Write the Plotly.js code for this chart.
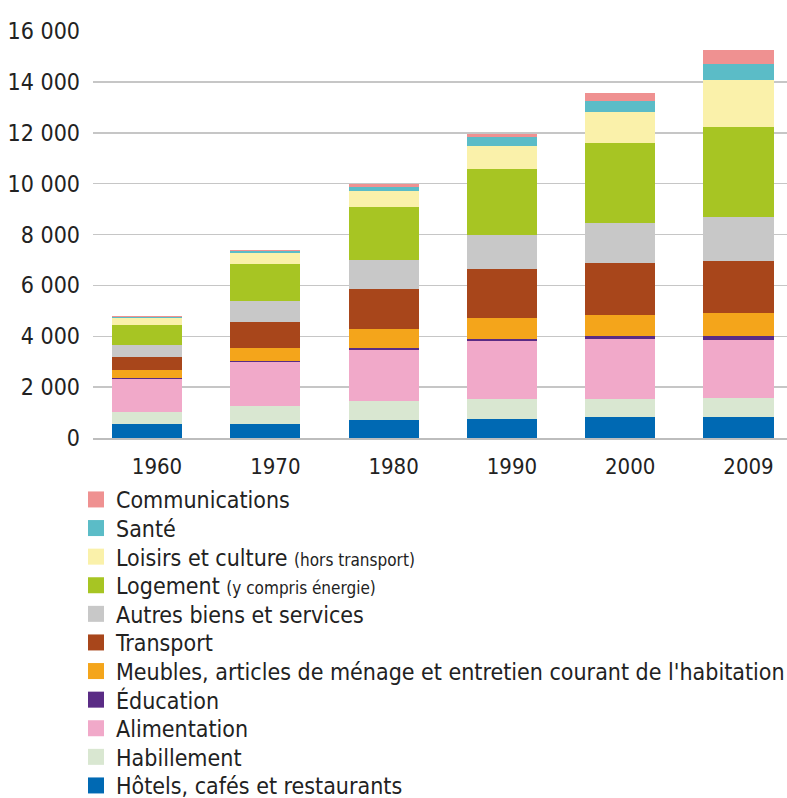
<!DOCTYPE html>
<html>
<head>
<meta charset="utf-8">
<script src="https://cdn.plot.ly/plotly-3.0.1.min.js"></script>
<style>
  html, body { margin: 0; padding: 0; background: #fff; }
  #chart { width: 787px; height: 798px; }
</style>
</head>
<body>
<div id="chart"></div>
<script>
// Years on the category axis
const years = ['1960', '1970', '1980', '1990', '2000', '2009'];

// Spending per person, by consumption function (stacked bottom to top)
const hotels        = [550, 560, 695, 760, 825, 810];
const habillement   = [490, 700, 745, 775, 720, 765];
const alimentation  = [1270, 1710, 2010, 2270, 2365, 2295];
const education     = [50, 50, 70, 105, 90, 130];
const meubles       = [300, 525, 775, 790, 855, 920];
const transport     = [530, 1030, 1550, 1930, 2035, 2030];
const autres        = [485, 810, 1140, 1350, 1575, 1750];
const logement      = [775, 1470, 2115, 2585, 3120, 3525];
const loisirs       = [270, 435, 615, 895, 1250, 1840];
const sante         = [30, 60, 155, 355, 415, 630];
const communications = [40, 40, 105, 130, 330, 565];

// Y-axis ticks
const yTickVals = [0, 2000, 4000, 6000, 8000, 10000, 12000, 14000, 16000];
const yTickText = ['0', '2 000', '4 000', '6 000', '8 000', '10 000', '12 000', '14 000', '16 000'];

const series = [
  { name: 'Hôtels, cafés et restaurants', y: hotels, color: '#0069b3' },
  { name: 'Habillement', y: habillement, color: '#d9e7d1' },
  { name: 'Alimentation', y: alimentation, color: '#f1a9c9' },
  { name: 'Éducation', y: education, color: '#5a2c85' },
  { name: "Meubles, articles de ménage et entretien courant de l'habitation", y: meubles, color: '#f4a51b' },
  { name: 'Transport', y: transport, color: '#a8461b' },
  { name: 'Autres biens et services', y: autres, color: '#c8c8c8' },
  { name: 'Logement <span style="font-size:17px">(y compris énergie)</span>', y: logement, color: '#a7c523' },
  { name: 'Loisirs et culture <span style="font-size:17px">(hors transport)</span>', y: loisirs, color: '#faf1aa' },
  { name: 'Santé', y: sante, color: '#5bbcc7' },
  { name: 'Communications', y: communications, color: '#ef9191' }
];

const FONT = '"DejaVu Sans Condensed", "Liberation Sans Narrow", sans-serif';

const traces = series.map(s => ({
  type: 'bar',
  x: years,
  y: s.y,
  name: s.name,
  marker: { color: s.color, line: { width: 0 } },
  hoverinfo: 'x+y+name'
}));

const layout = {
  width: 787,
  height: 798,
  margin: { l: 93, r: 0, t: 31, b: 360, pad: 0, autoexpand: false },
  paper_bgcolor: '#ffffff',
  plot_bgcolor: '#ffffff',
  barmode: 'stack',
  bargap: 0.408,
  font: { family: FONT, size: 22, color: '#222222' },
  xaxis: {
    type: 'category',
    range: [-0.4565, 5.41],
    showgrid: false,
    zeroline: false,
    showline: true,
    linecolor: '#bdbdbd',
    linewidth: 1.5,
    ticks: '',
    tickangle: 0,
    automargin: false,
    ticklabelshift: 10,
    ticklabelstandoff: 8,
    tickfont: { family: FONT, size: 22, color: '#222222' }
  },
  yaxis: {
    range: [0, 16000],
    tickvals: yTickVals,
    ticktext: yTickText,
    showgrid: true,
    gridcolor: '#c6c6c6',
    gridwidth: 1.5,
    zeroline: false,
    showline: false,
    ticks: '',
    automargin: false,
    ticklabelstandoff: 12,
    tickfont: { family: FONT, size: 23, color: '#222222' }
  },
  showlegend: true,
  legend: {
    orientation: 'v',
    traceorder: 'reversed',
    xref: 'container',
    yref: 'container',
    x: 76 / 787,
    y: 1 - 478 / 798,
    xanchor: 'left',
    yanchor: 'top',
    bgcolor: 'rgba(0,0,0,0)',
    borderwidth: 0,
    font: { family: FONT, size: 23, color: '#222222' },
    itemclick: false,
    itemdoubleclick: false
  }
};

const LEGEND_ROW = 28.6; // vertical pitch of legend rows, px

Plotly.newPlot('chart', traces, layout, { displayModeBar: false, staticPlot: true }).then(() => {
  // Tighter legend rows
  const rows = document.querySelectorAll('.legend .traces');
  let x0 = 0, y0 = null;
  rows.forEach((g, i) => {
    const m = /translate\(\s*([-\d.]+)[ ,]+([-\d.]+)\s*\)/.exec(g.getAttribute('transform') || '');
    if (m && y0 === null) { x0 = parseFloat(m[1]); y0 = parseFloat(m[2]); }
    if (y0 !== null) g.setAttribute('transform', `translate(${x0},${y0 + i * LEGEND_ROW})`);
  });
  // Larger square swatches, set closer to their labels
  document.querySelectorAll('.legend .legendpoints path').forEach(p => {
    p.setAttribute('d', 'M8,8H-8V-8H8Z');
    p.setAttribute('transform', 'translate(20,0)');
  });
});
</script>
</body>
</html>
